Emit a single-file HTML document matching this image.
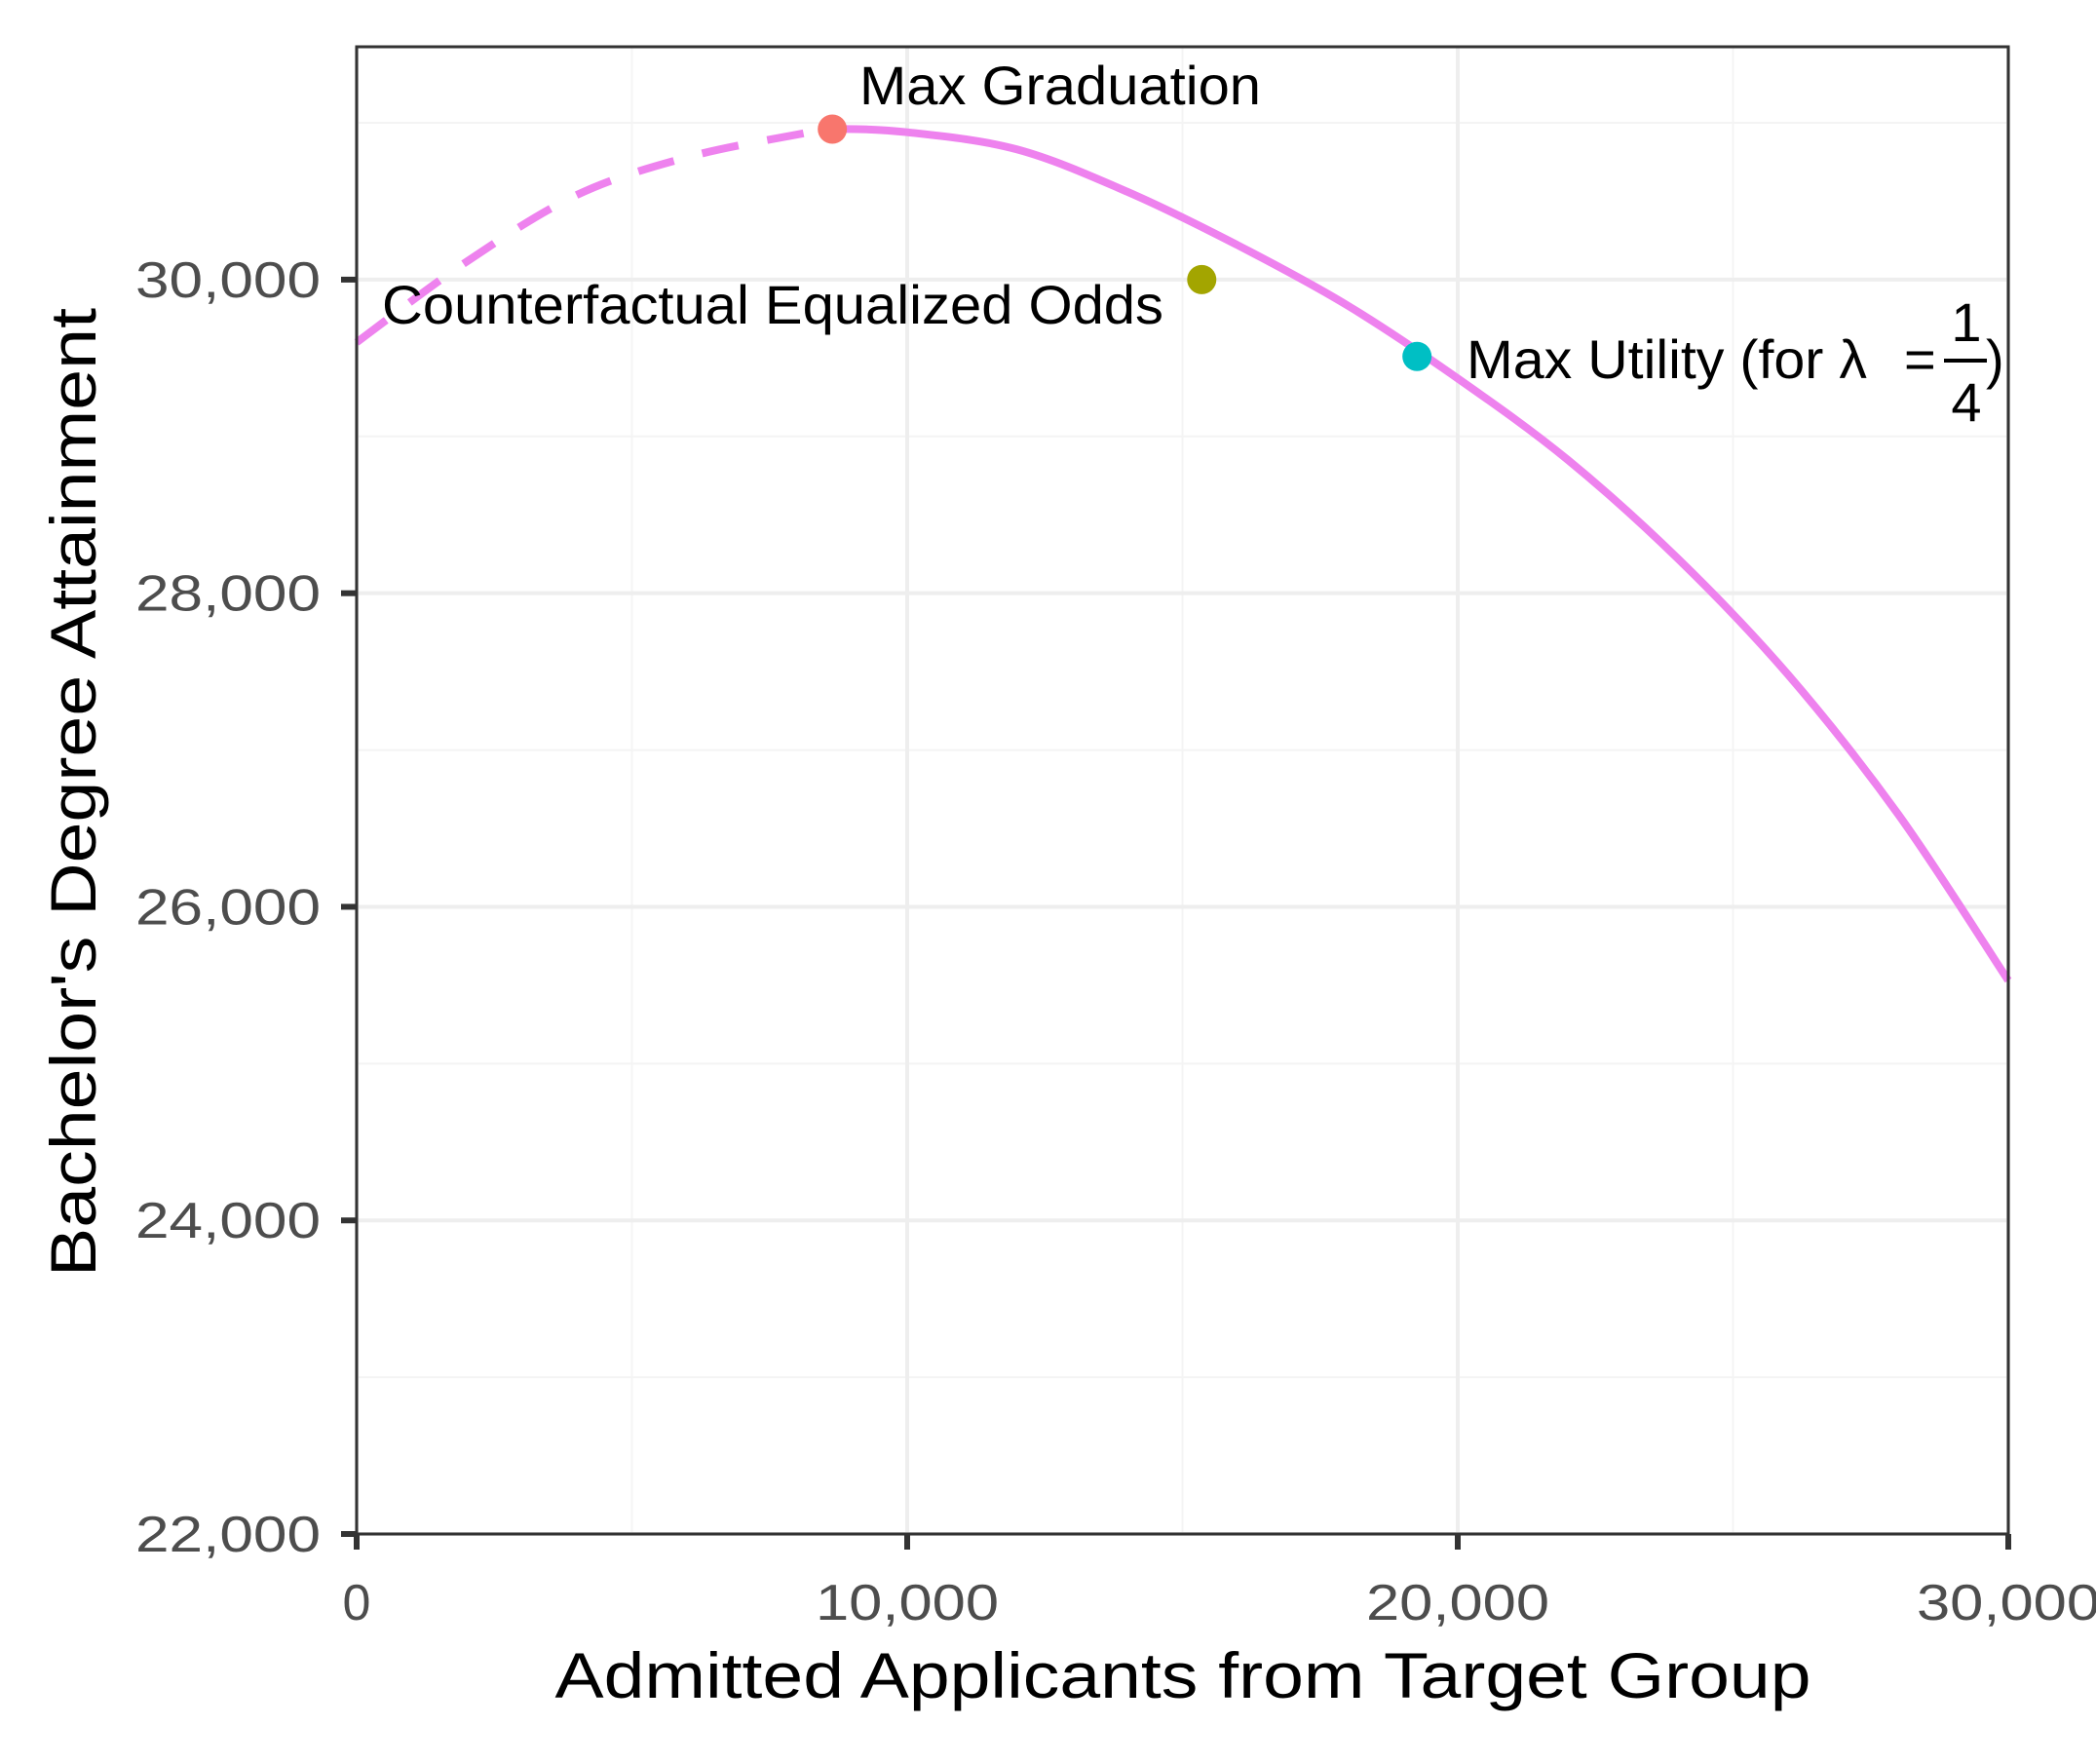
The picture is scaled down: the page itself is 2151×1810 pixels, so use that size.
<!DOCTYPE html>
<html><head><meta charset="utf-8"><style>
html,body{margin:0;padding:0;background:#fff;}
svg{display:block;font-family:"Liberation Sans",Arial,sans-serif;}
</style></head><body>
<svg id="chart" width="2151" height="1810" viewBox="0 0 2151 1810" xmlns="http://www.w3.org/2000/svg">
<rect x="0" y="0" width="2151" height="1810" fill="#fff"/>
<g id="grid"></g>
<g id="series"></g>
<g id="axes"></g>
<text x="1214" y="1742" font-size="66" text-anchor="middle" textLength="1289" lengthAdjust="spacingAndGlyphs" fill="#000">Admitted Applicants from Target Group</text>
<text transform="translate(98,813) rotate(-90)" font-size="66" text-anchor="middle" textLength="994" lengthAdjust="spacingAndGlyphs" fill="#000">Bachelor's Degree Attainment</text>
<text x="882" y="107" font-size="56" textLength="412" lengthAdjust="spacingAndGlyphs" fill="#000">Max Graduation</text>
<text x="392" y="332" font-size="56" textLength="802" lengthAdjust="spacingAndGlyphs" fill="#000">Counterfactual Equalized Odds</text>
<g fill="#000" font-size="56">
<text x="1505" y="388" textLength="411" lengthAdjust="spacingAndGlyphs">Max Utility (for λ</text>
<text x="1954" y="388">=</text>
<text x="2018" y="350" text-anchor="middle">1</text>
<rect x="1995" y="368" width="44" height="4" fill="#000"/>
<text x="2018" y="432" text-anchor="middle">4</text>
<text x="2038" y="388">)</text>
</g>
</svg>
<script>
const xTicks = [0, 10000, 20000, 30000];
const xTickLabels = ["0", "10,000", "20,000", "30,000"];
const xMinor = [5000, 15000, 25000];
const yTicks = [22000, 24000, 26000, 28000, 30000];
const yTickLabels = ["22,000", "24,000", "26,000", "28,000", "30,000"];
const yMinor = [23000, 25000, 27000, 29000, 31000];
const curveX = [0, 2000, 4000, 6000, 8000, 8640, 10000, 12000, 14000, 16000, 18000, 20000, 22000, 24000, 26000, 28000, 30000];
const curveY = [29600, 30115, 30540, 30780, 30925, 30960, 30940, 30830, 30560, 30220, 29835, 29370, 28850, 28220, 27480, 26590, 25530];
const dashedUntil = 8640;
const pointNames = ["Max Graduation", "Counterfactual Equalized Odds", "Max Utility"];
const pointX = [8640, 15350, 19260];
const pointY = [30960, 30000, 29510];
const pointColors = ["#F8766D", "#A3A500", "#00BFC4"];

const L = 366, R = 2061, T = 48, B = 1574;
const xMin = 0, xMax = 30000, yMin = 22000, yMax = 31485;
const sx = v => L + (v - xMin) / (xMax - xMin) * (R - L);
const sy = v => B - (v - yMin) / (yMax - yMin) * (B - T);
const NS = "http://www.w3.org/2000/svg";
function mk(tag, attrs, parent) {
  const e = document.createElementNS(NS, tag);
  for (const k in attrs) e.setAttribute(k, attrs[k]);
  parent.appendChild(e);
  return e;
}
const grid = document.getElementById('grid');
const series = document.getElementById('series');
const axes = document.getElementById('axes');

xMinor.forEach(v => {
  const l = mk('line', {x1: sx(v), x2: sx(v), y1: T, y2: B, stroke: '#F4F4F4', 'stroke-width': 2}, grid);
  
  
});
yMinor.forEach(v => {
  if (sy(v) < T) return;
  const l = mk('line', {x1: L, x2: R, y1: sy(v), y2: sy(v), stroke: '#F4F4F4', 'stroke-width': 2}, grid);
  
  
});
xTicks.forEach(v => {
  const l = mk('line', {x1: sx(v), x2: sx(v), y1: T, y2: B, stroke: '#EEEEEE', 'stroke-width': 4}, grid);
  
  
});
yTicks.forEach(v => {
  const l = mk('line', {x1: L, x2: R, y1: sy(v), y2: sy(v), stroke: '#EEEEEE', 'stroke-width': 4}, grid);
  
  
});

const P = curveX.map((x, i) => [sx(x), sy(curveY[i])]);
function seg(i) {
  const p0 = P[Math.max(i - 1, 0)], p1 = P[i], p2 = P[i + 1], p3 = P[Math.min(i + 2, P.length - 1)];
  const c1 = [p1[0] + (p2[0] - p0[0]) / 6, p1[1] + (p2[1] - p0[1]) / 6];
  const c2 = [p2[0] - (p3[0] - p1[0]) / 6, p2[1] - (p3[1] - p1[1]) / 6];
  return ' C' + c1[0].toFixed(1) + ',' + c1[1].toFixed(1) + ' ' + c2[0].toFixed(1) + ',' + c2[1].toFixed(1) + ' ' + p2[0].toFixed(1) + ',' + p2[1].toFixed(1);
}
const splitIdx = curveX.indexOf(dashedUntil);
let dPath = 'M' + P[0][0].toFixed(1) + ',' + P[0][1].toFixed(1);
for (let i = 0; i < splitIdx; i++) dPath += seg(i);
let sPath = 'M' + P[splitIdx][0].toFixed(1) + ',' + P[splitIdx][1].toFixed(1);
for (let i = splitIdx; i < P.length - 1; i++) sPath += seg(i);

const dl = mk('path', {d: dPath, fill: 'none', stroke: '#EE82EE', 'stroke-width': 8, 'stroke-dasharray': '38 30'}, series);


const sl = mk('path', {d: sPath, fill: 'none', stroke: '#EE82EE', 'stroke-width': 8}, series);



pointX.forEach((x, i) => {
  const c = mk('circle', {cx: sx(x), cy: sy(pointY[i]), r: 15, fill: pointColors[i]}, series);
  
  
});

const frame = mk('rect', {x: L, y: T, width: R - L, height: B - T, fill: 'none', stroke: '#333333', 'stroke-width': 3}, axes);



xTicks.forEach((v, i) => {
  const t = mk('line', {x1: sx(v), x2: sx(v), y1: B, y2: B + 16, stroke: '#333333', 'stroke-width': 6}, axes);
  
  
  const attrs = {x: sx(v), y: 1662, 'font-size': 52, 'text-anchor': 'middle', fill: '#4D4D4D'};
  if (xTickLabels[i].length > 1) { attrs.textLength = 188; attrs.lengthAdjust = 'spacingAndGlyphs'; }
  const tx = mk('text', attrs, axes);
  tx.textContent = xTickLabels[i];
  
  
});
yTicks.forEach((v, i) => {
  const t = mk('line', {x1: L - 16, x2: L, y1: sy(v), y2: sy(v), stroke: '#333333', 'stroke-width': 6}, axes);
  
  
  const tx = mk('text', {x: 329, y: sy(v) + 18, 'font-size': 52, 'text-anchor': 'end', fill: '#4D4D4D', textLength: 190, lengthAdjust: 'spacingAndGlyphs'}, axes);
  tx.textContent = yTickLabels[i];
  
  
});
</script>
</body></html>
